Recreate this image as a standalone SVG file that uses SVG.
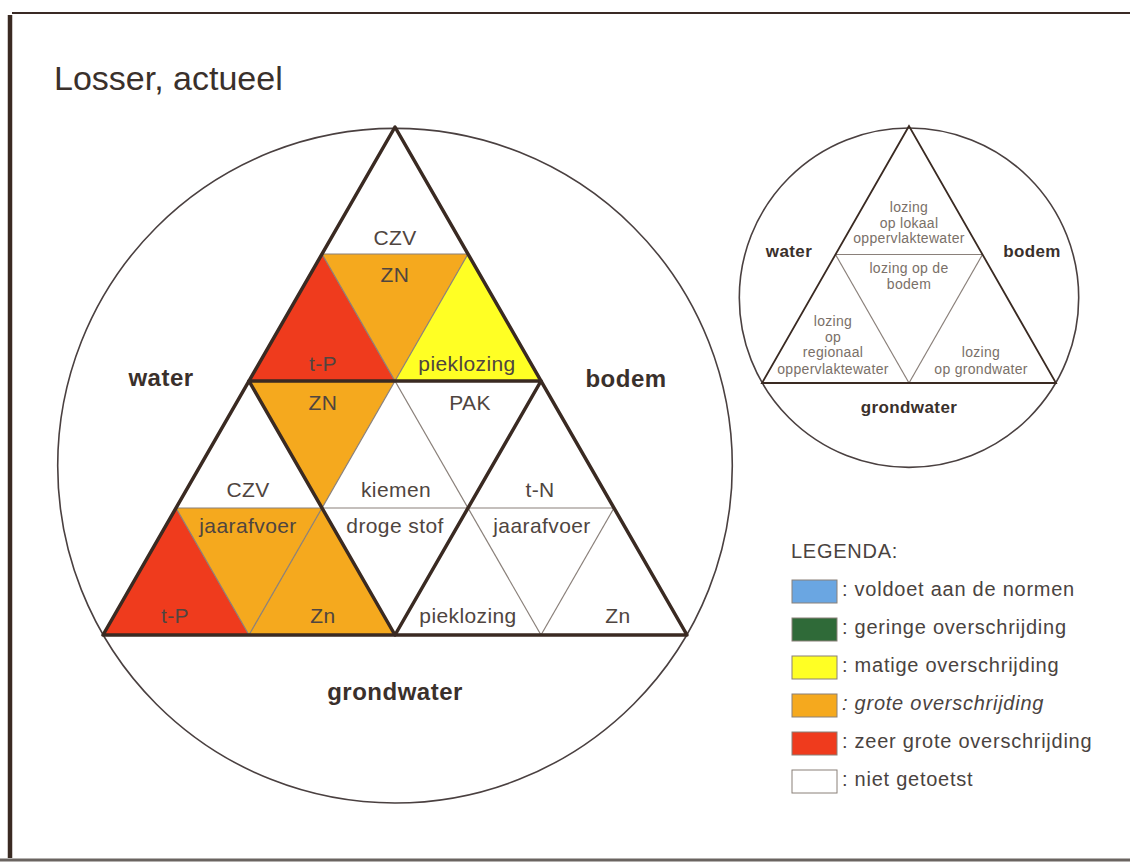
<svg xmlns="http://www.w3.org/2000/svg" width="1130" height="865" viewBox="0 0 1130 865">
<style>
.bg{fill:#ffffff}
.lbl{font-family:"Liberation Sans",Arial,sans-serif;font-size:21px;fill:#4f4540;text-anchor:middle;letter-spacing:0.4px}
.side{font-family:"Liberation Sans",Arial,sans-serif;font-size:24px;font-weight:bold;fill:#3a302b;text-anchor:middle;letter-spacing:0.5px}
.sside{font-family:"Liberation Sans",Arial,sans-serif;font-size:17px;font-weight:bold;fill:#3a302b;text-anchor:middle;letter-spacing:0.4px}
.stxt{font-family:"Liberation Sans",Arial,sans-serif;font-size:14px;fill:#7a7068;text-anchor:middle;letter-spacing:0.3px}
.leg{font-family:"Liberation Sans",Arial,sans-serif;font-size:20px;fill:#4a4340;letter-spacing:0.75px}
.title{font-family:"Liberation Sans",Arial,sans-serif;font-size:34px;fill:#3a302b}
.w{fill:#ffffff}
.o{fill:#f5a91e}
.r{fill:#ef3b1d}
.y{fill:#ffff24}
.thick{stroke:#3a2a22;stroke-width:3.5;fill:none;stroke-linejoin:round}
.thin{stroke:#8a807a;stroke-width:1.2;fill:none}
.circ{stroke:#4a4040;stroke-width:1.6;fill:none}
.sw{stroke:#8a8078;stroke-width:1}
</style>
<rect class="bg" x="0" y="0" width="1130" height="865"/>
<g id="frame">
<line x1="12" y1="13" x2="1130" y2="13" stroke="#3a2a25" stroke-width="2"/>
<line x1="10" y1="15" x2="10" y2="858" stroke="#3a2a22" stroke-width="4.5"/>
<line x1="0" y1="860" x2="1130" y2="860" stroke="#6a6460" stroke-width="3"/>
</g>
<text class="title" x="54" y="90">Losser, actueel</text>

<circle class="circ" cx="395" cy="465.7" r="337.3"/>

<g id="cell-top-czv"><polygon class="w" points="395,127 322,254 468,254"/><text class="lbl" x="395" y="245">CZV</text></g>
<g id="cell-top-zn"><polygon class="o" points="322,254 468,254 395,381"/><text class="lbl" x="395" y="282">ZN</text></g>
<g id="cell-top-tp"><polygon class="r" points="322,254 249,381 395,381"/><text class="lbl" x="323" y="371">t-P</text></g>
<g id="cell-top-pieklozing"><polygon class="y" points="468,254 395,381 541,381"/><text class="lbl" x="467" y="371">pieklozing</text></g>

<g id="cell-mid-zn"><polygon class="o" points="249,381 395,381 322,508"/><text class="lbl" x="323" y="410">ZN</text></g>
<g id="cell-mid-pak"><polygon class="w" points="395,381 541,381 468,508"/><text class="lbl" x="470" y="410">PAK</text></g>
<g id="cell-mid-kiemen"><polygon class="w" points="395,381 322,508 468,508"/><text class="lbl" x="396" y="497">kiemen</text></g>
<g id="cell-mid-drogestof"><polygon class="w" points="322,508 468,508 395,635"/><text class="lbl" x="395" y="533">droge stof</text></g>

<g id="cell-left-czv"><polygon class="w" points="249,381 176,508 322,508"/><text class="lbl" x="248" y="497">CZV</text></g>
<g id="cell-left-jaarafvoer"><polygon class="o" points="176,508 322,508 249,635"/><text class="lbl" x="248" y="533">jaarafvoer</text></g>
<g id="cell-left-tp"><polygon class="r" points="176,508 103,635 249,635"/><text class="lbl" x="175" y="623">t-P</text></g>
<g id="cell-left-zn"><polygon class="o" points="322,508 249,635 395,635"/><text class="lbl" x="323" y="623">Zn</text></g>

<g id="cell-right-tn"><polygon class="w" points="541,381 468,508 614,508"/><text class="lbl" x="540" y="497">t-N</text></g>
<g id="cell-right-jaarafvoer"><polygon class="w" points="468,508 614,508 541,635"/><text class="lbl" x="542" y="533">jaarafvoer</text></g>
<g id="cell-right-pieklozing"><polygon class="w" points="468,508 395,635 541,635"/><text class="lbl" x="468" y="623">pieklozing</text></g>
<g id="cell-right-zn"><polygon class="w" points="614,508 541,635 687,635"/><text class="lbl" x="618" y="623">Zn</text></g>

<g id="connectors">
<line class="thin" x1="322" y1="254" x2="468" y2="254"/>
<line class="thin" x1="176" y1="508" x2="614" y2="508"/>
<line class="thin" x1="249" y1="635" x2="468" y2="254"/>
<line class="thin" x1="541" y1="635" x2="322" y2="254"/>
<line class="thin" x1="541" y1="635" x2="614" y2="508"/>
<line class="thin" x1="249" y1="635" x2="176" y2="508"/>
<polygon class="thick" points="395,127 103,635 687,635"/>
<polygon class="thick" points="249,381 541,381 395,635"/>
</g>

<g id="side-labels">
<text class="side" x="161" y="386">water</text>
<text class="side" x="626" y="387">bodem</text>
<text class="side" x="395" y="700">grondwater</text>
</g>

<g id="key-diagram">
<circle class="circ" cx="909" cy="297.7" r="169.7"/>
<line class="thin" x1="835.5" y1="254.5" x2="982.5" y2="254.5"/>
<line class="thin" x1="835.5" y1="254.5" x2="909" y2="383"/>
<line class="thin" x1="982.5" y1="254.5" x2="909" y2="383"/>
<polygon points="909,126 762,383 1056,383" fill="none" stroke="#3a2a22" stroke-width="1.8"/>
<g id="key-top"><text class="stxt" x="909" y="212">lozing</text><text class="stxt" x="909" y="228">op lokaal</text><text class="stxt" x="909" y="243">oppervlaktewater</text></g>
<g id="key-mid"><text class="stxt" x="909" y="273">lozing op de</text><text class="stxt" x="909" y="289">bodem</text></g>
<g id="key-left"><text class="stxt" x="833" y="326">lozing</text><text class="stxt" x="833" y="342">op</text><text class="stxt" x="833" y="357">regionaal</text><text class="stxt" x="833" y="374">oppervlaktewater</text></g>
<g id="key-right"><text class="stxt" x="981" y="357">lozing</text><text class="stxt" x="981" y="374">op grondwater</text></g>
<text class="sside" x="789" y="257">water</text>
<text class="sside" x="1032" y="257">bodem</text>
<text class="sside" x="909" y="413">grondwater</text>
</g>

<g id="legend">
<text class="leg" x="791" y="558">LEGENDA:</text>
<g id="leg-1"><rect class="sw" x="792" y="580" width="45" height="23" fill="#6aa6e2"/><text class="leg" x="842" y="596">: voldoet aan de normen</text></g>
<g id="leg-2"><rect class="sw" x="792" y="618" width="45" height="23" fill="#2f6a38"/><text class="leg" x="842" y="634">: geringe overschrijding</text></g>
<g id="leg-3"><rect class="sw" x="792" y="656" width="45" height="23" fill="#ffff24"/><text class="leg" x="842" y="672">: matige overschrijding</text></g>
<g id="leg-4"><rect class="sw" x="792" y="694" width="45" height="23" fill="#f5a91e"/><text class="leg" x="842" y="710" font-style="italic">: grote overschrijding</text></g>
<g id="leg-5"><rect class="sw" x="792" y="732" width="45" height="23" fill="#ef3b1d"/><text class="leg" x="842" y="748">: zeer grote overschrijding</text></g>
<g id="leg-6"><rect class="sw" x="792" y="770" width="45" height="23" fill="#ffffff"/><text class="leg" x="842" y="786">: niet getoetst</text></g>
</g>
</svg>
